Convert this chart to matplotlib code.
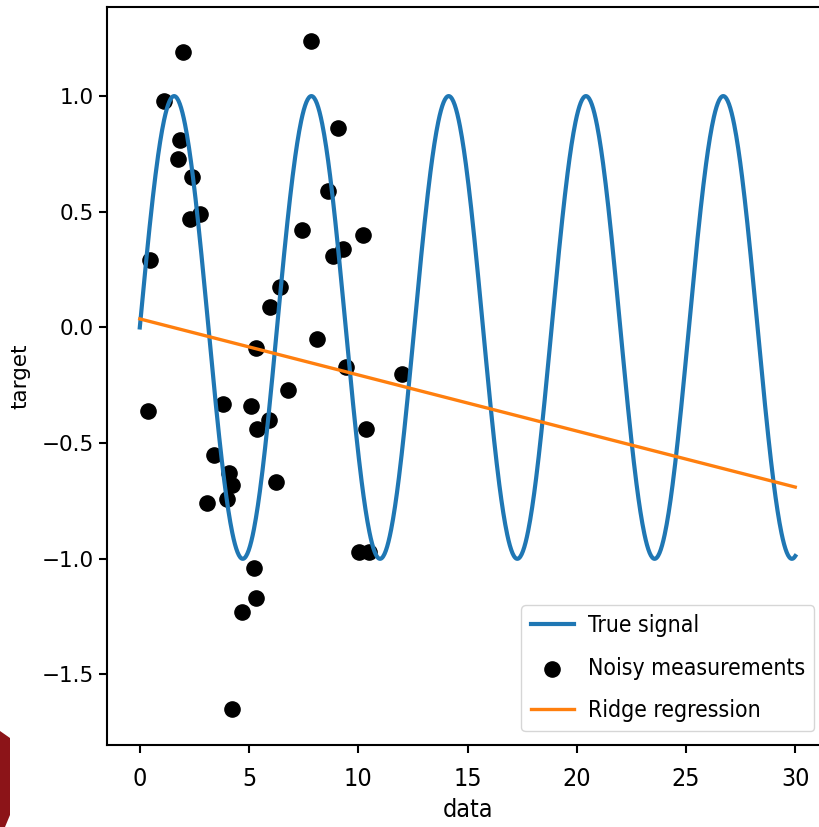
import numpy as np
import matplotlib
matplotlib.use("Agg")
import matplotlib.pyplot as plt
from matplotlib.patches import Polygon

data_x = [0.38, 0.46, 1.11, 1.77, 1.83, 1.98, 2.30, 2.38, 2.74, 3.09,
          3.41, 3.80, 3.98, 4.10, 4.22, 4.24, 4.69, 5.11, 5.23, 5.30,
          5.30, 5.38, 5.91, 5.96, 6.23, 6.42, 6.78, 7.42, 7.82, 8.09,
          8.63, 8.84, 9.08, 9.30, 9.42, 10.03, 10.21, 10.36, 10.49, 12.01]
data_y = [-0.36, 0.29, 0.98, 0.73, 0.81, 1.19, 0.47, 0.65, 0.49, -0.76,
          -0.55, -0.33, -0.74, -0.63, -0.68, -1.65, -1.23, -0.34, -1.04, -1.17,
          -0.09, -0.44, -0.40, 0.09, -0.67, 0.175, -0.27, 0.42, 1.24, -0.05,
          0.59, 0.31, 0.86, 0.34, -0.17, -0.97, 0.40, -0.44, -0.97, -0.20]

# ridge fit end points
ridge_x = [0, 30]
ridge_y = [0.037, -0.69]

# true signal
signal_x = np.linspace(0, 30, 1000)
signal_y = np.sin(signal_x)

fig = plt.figure(figsize=(8.2, 8.27), dpi=100)
ax = fig.add_axes([0.1305, 0.0991, 0.8793, 0.8924])

ax.plot(signal_x, signal_y, color="tab:blue", linewidth=3.0, label="True signal")
ax.scatter(data_x, data_y, color="black", s=120, label="Noisy measurements")
ax.plot(ridge_x, ridge_y, color="tab:orange", linewidth=2.4, label="Ridge regression")

ax.set_xlim(-1.5, 31.5)
ax.set_ylim(-1.805, 1.385)
ax.set_xticks([0, 5, 10, 15, 20, 25, 30])
ax.set_yticks([-1.5, -1.0, -0.5, 0.0, 0.5, 1.0])

for side in ax.spines.values():
    side.set_linewidth(1.5)
ax.tick_params(axis="both", length=6, width=1.5, labelsize=15.5)
ax.tick_params(axis="x", pad=10)
for lbl in ax.get_xticklabels():
    lbl.set_fontstretch("condensed")
    lbl.set_fontsize(18)

ax.set_xlabel("data", fontsize=18, fontstretch="condensed", labelpad=5)
ax.set_ylabel("target", fontsize=15.5, labelpad=8)

leg = ax.legend(loc="lower right", prop={"size": 16.5, "stretch": "condensed"},
                borderaxespad=0.6, labelspacing=0.85, handlelength=1.9,
                handletextpad=0.6)

# red logo fragment in the corner
fig.patches.append(Polygon([[0, 96 / 827], [10 / 820, 89 / 827], [10 / 820, 12 / 827],
                            [5 / 820, 0], [0, 0]],
                           closed=True, transform=fig.transFigure,
                           facecolor="#8c1418", edgecolor="none"))

fig.savefig("out.png", dpi=100)
